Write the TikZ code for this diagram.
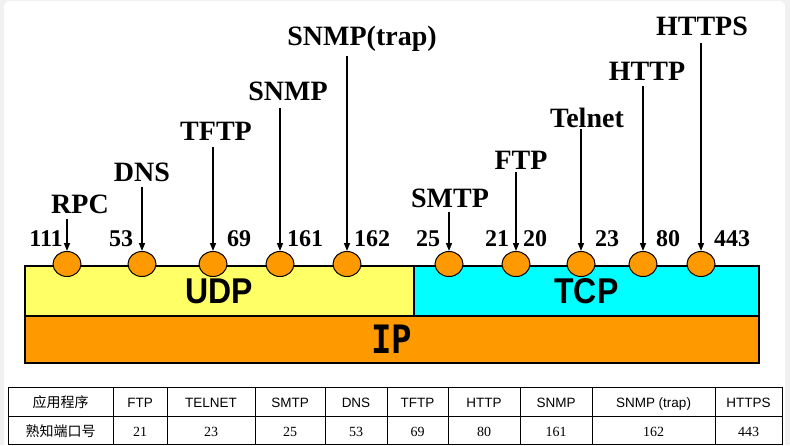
\documentclass[tikz,border=0pt]{standalone}
\usepackage{fontspec}
\setmainfont{Liberation Serif}
\newfontfamily\lsans{Liberation Sans}
\newfontfamily\lmonob{DejaVu Sans Mono}
\newfontfamily\cjk{Noto Sans CJK SC}
\usetikzlibrary{arrows.meta,shapes.geometric}
\definecolor{udpy}{HTML}{FFFF66}
\definecolor{tcpc}{HTML}{00FFFF}
\definecolor{ipo}{HTML}{FF9900}
\definecolor{bgg}{HTML}{F1F1F1}
\begin{document}
\begin{tikzpicture}[x=1pt,y=-1pt,
  layerbox/.style={draw=black, line width=1.8pt, inner sep=0pt, anchor=north west,
    font=\lsans\bfseries\fontsize{32}{32}\selectfont},
  port/.style={ellipse, draw=black, line width=1pt, fill=ipo, minimum width=28pt,
    minimum height=25pt, inner sep=0pt},
  proto/.style={font=\bfseries\fontsize{28}{28}\selectfont, inner sep=0pt,
    text depth=0pt, anchor=base},
  portnum/.style={font=\bfseries\fontsize{24}{24}\selectfont, inner sep=0pt, anchor=base},
  arr/.style={line width=1.5pt, -{Triangle[length=8pt,width=6pt]}},
  cellhd/.style={inner sep=0pt, anchor=base, font=\lsans\fontsize{13.5}{13.5}\selectfont},
  cellnum/.style={inner sep=0pt, anchor=base, font=\fontsize{14}{14}\selectfont},
  cellcjk/.style={inner sep=0pt, anchor=base, font=\cjk\fontsize{14}{14}\selectfont},
  grid/.style={line width=0.9pt, draw=black}
]
\useasboundingbox (0,0) rectangle (790,445);
\fill[bgg] (0,0) rectangle (790,445);
\fill[white, rounded corners=6pt] (4,1) rectangle (785,470);

% layer boxes
\node[layerbox, fill=udpy, minimum width=389pt, minimum height=50pt] (udp) at (24,265) {\scalebox{1}[1.12]{UDP}};
\node[layerbox, fill=tcpc, minimum width=345pt, minimum height=50pt] (tcp) at (413,265) {\scalebox{1}[1.12]{TCP}};
\node[layerbox, fill=ipo, minimum width=734pt, minimum height=47pt,
  font=\lmonob\bfseries\fontsize{34}{34}\selectfont] (ip) at (24,315) {\scalebox{1}[1.15]{IP}};

% ports
\node[port] (c1) at (67,264) {};
\node[port] (c2) at (142,264) {};
\node[port] (c3) at (213,264) {};
\node[port] (c4) at (280,264) {};
\node[port] (c5) at (347,264) {};
\node[port] (c6) at (449,264) {};
\node[port] (c7) at (516,264) {};
\node[port] (c8) at (581,264) {};
\node[port] (c9) at (643,264) {};
\node[port] (c10) at (701,264) {};

% port numbers
\node[portnum] (n1) at (46,246) {111};
\node[portnum] (n2) at (121,246) {53};
\node[portnum] (n3) at (239,246) {69};
\node[portnum] (n4) at (305,246) {161};
\node[portnum] (n5) at (372,246) {162};
\node[portnum] (n6) at (428,246) {25};
\node[portnum] (n7a) at (497,246) {21};
\node[portnum] (n7b) at (535,246) {20};
\node[portnum] (n8) at (607,246) {23};
\node[portnum] (n9) at (668,246) {80};
\node[portnum] (n10) at (732,246) {443};

% protocol labels
\node[proto] (l1) at (80,213) {RPC};
\node[proto] (l2) at (142,181) {DNS};
\node[proto] (l3) at (216,140) {TFTP};
\node[proto] (l4) at (288,100) {SNMP};
\node[proto] (l5) at (362,45) {SNMP(trap)};
\node[proto] (l6) at (450,207) {SMTP};
\node[proto] (l7) at (521,169) {FTP};
\node[proto] (l8) at (587,127) {Telnet};
\node[proto] (l9) at (647,80) {HTTP};
\node[proto] (l10) at (702,35) {HTTPS};

% arrows
\draw[arr, shorten <=6pt] (l1.south -| c1) -- (c1.north);
\draw[arr, shorten <=6pt] (l2.south -| c2) -- (c2.north);
\draw[arr, shorten <=7pt] (l3.south -| c3) -- (c3.north);
\draw[arr, shorten <=8pt] (l4.south -| c4) -- (c4.north);
\draw[arr, shorten <=11pt] (l5.south -| c5) -- (c5.north);
\draw[arr, shorten <=5pt] (l6.south -| c6) -- (c6.north);
\draw[arr, shorten <=3pt] (l7.south -| c7) -- (c7.north);
\draw[arr, shorten <=2pt] (l8.south -| c8) -- (c8.north);
\draw[arr, shorten <=6pt] (l9.south -| c9) -- (c9.north);
\draw[arr, shorten <=8pt] (l10.south -| c10) -- (c10.north);

% table grid
\draw[grid] (8,387) rectangle (782,444);
\draw[grid] (8,416) -- (782,416);
\foreach \cx in {113,167,255,325,387,448,520,592,715}
  \draw[grid] (\cx,387) -- (\cx,444);

% table header row
\node[cellcjk] (h0) at (60.5,407) {应用程序};
\node[cellhd] (h1) at (140,407) {FTP};
\node[cellhd] (h2) at (211,407) {TELNET};
\node[cellhd] (h3) at (290,407) {SMTP};
\node[cellhd] (h4) at (356,407) {DNS};
\node[cellhd] (h5) at (417.5,407) {TFTP};
\node[cellhd] (h6) at (484,407) {HTTP};
\node[cellhd] (h7) at (556,407) {SNMP};
\node[cellhd] (h8) at (653.5,407) {SNMP (trap)};
\node[cellhd] (h9) at (748.5,407) {HTTPS};
% table number row
\node[cellcjk] (v0) at (60.5,436) {熟知端口号};
\node[cellnum] (v1) at (140,436) {21};
\node[cellnum] (v2) at (211,436) {23};
\node[cellnum] (v3) at (290,436) {25};
\node[cellnum] (v4) at (356,436) {53};
\node[cellnum] (v5) at (417.5,436) {69};
\node[cellnum] (v6) at (484,436) {80};
\node[cellnum] (v7) at (556,436) {161};
\node[cellnum] (v8) at (653.5,436) {162};
\node[cellnum] (v9) at (748.5,436) {443};
\end{tikzpicture}
\end{document}
